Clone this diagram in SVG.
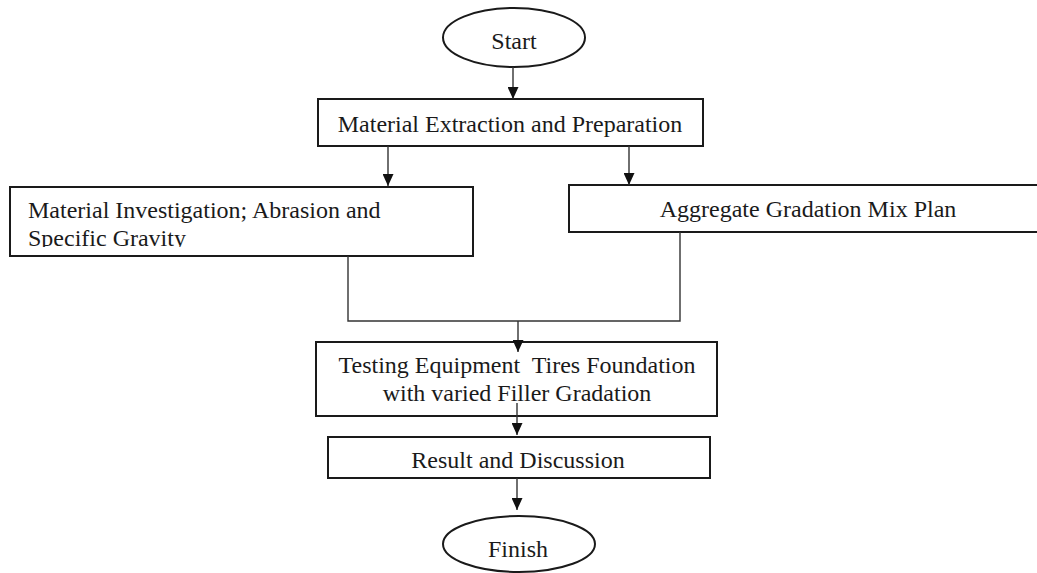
<svg xmlns="http://www.w3.org/2000/svg" width="1037" height="573" viewBox="0 0 1037 573">
<style>
.box{fill:#fff;stroke:#1a1a1a;stroke-width:2}
.t{font-family:"Liberation Serif","Times New Roman",serif;font-size:24px;fill:#1a1a1a}
.c{stroke:#333;stroke-width:1.4;fill:none}
</style>
<defs>
<marker id="ah" markerUnits="userSpaceOnUse" markerWidth="13" markerHeight="11" refX="12" refY="5.5" orient="auto">
<path d="M0,0 L12,5.5 L0,11 z" fill="#111"/>
</marker>
<clipPath id="clipL"><rect x="10" y="187" width="463" height="60"/></clipPath>
</defs>
<rect width="1037" height="573" fill="#fff"/>
<g id="start">
<ellipse class="box" cx="514" cy="37.5" rx="71" ry="29.5"/>
<text class="t" x="514" y="49" text-anchor="middle">Start</text>
</g>
<g id="extraction">
<rect class="box" x="318" y="99" width="385" height="47"/>
<text class="t" x="510" y="132" text-anchor="middle">Material Extraction and Preparation</text>
</g>
<g id="investigation">
<rect class="box" x="10" y="187" width="463" height="69"/>
<g clip-path="url(#clipL)">
<text class="t" x="28" y="218">Material Investigation; Abrasion and</text>
<text class="t" x="28" y="246">Specific Gravity</text>
</g>
</g>
<g id="gradation">
<rect class="box" x="569" y="185" width="480" height="47"/>
<text class="t" x="808" y="217" text-anchor="middle">Aggregate Gradation Mix Plan</text>
</g>
<g id="testing">
<rect class="box" x="316" y="342" width="401" height="74"/>
<text class="t" x="517" y="373" text-anchor="middle" xml:space="preserve">Testing Equipment  Tires Foundation</text>
<text class="t" x="517" y="401" text-anchor="middle">with varied Filler Gradation</text>
</g>
<g id="result">
<rect class="box" x="328" y="437" width="382" height="41"/>
<text class="t" x="518" y="468" text-anchor="middle">Result and Discussion</text>
</g>
<g id="finish">
<ellipse class="box" cx="519" cy="544" rx="76" ry="28"/>
<text class="t" x="518" y="557" text-anchor="middle">Finish</text>
</g>
<g id="connectors">
<line class="c" x1="513" y1="67" x2="513" y2="99" marker-end="url(#ah)"/>
<line class="c" x1="388" y1="146" x2="388" y2="186" marker-end="url(#ah)"/>
<line class="c" x1="629" y1="146" x2="629" y2="185" marker-end="url(#ah)"/>
<path class="c" d="M348,256 V321 H680 V232"/>
<line class="c" x1="518" y1="321" x2="518" y2="352" marker-end="url(#ah)"/>
<line class="c" x1="517" y1="403" x2="517" y2="435" marker-end="url(#ah)"/>
<line class="c" x1="517" y1="478" x2="517" y2="510" marker-end="url(#ah)"/>
</g>
</svg>
